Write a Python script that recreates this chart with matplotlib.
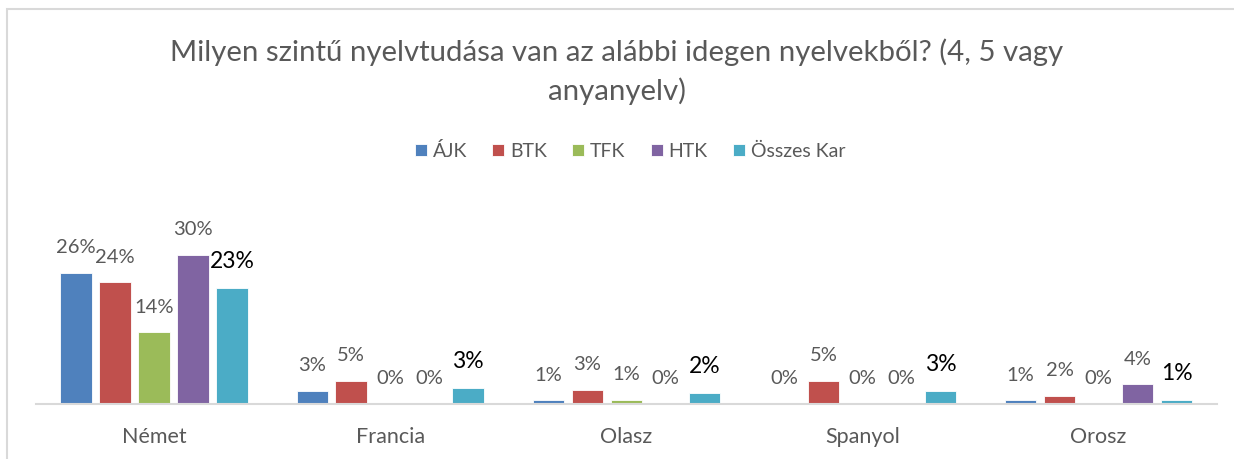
import numpy as np
import matplotlib.pyplot as plt
from matplotlib.patches import Rectangle

plt.rcParams['font.family'] = ['Lato', 'DejaVu Sans']

# nyelvek (kategoriak) es karok (sorozatok)
languages = ['Német', 'Francia', 'Olasz', 'Spanyol', 'Orosz']
faculties = ['ÁJK', 'BTK', 'TFK', 'HTK', 'Összes Kar']

ajk = [26.3, 2.6, 0.7, 0.0, 0.7]
btk = [24.4, 4.6, 2.8, 4.6, 1.6]
tfk = [14.4, 0.0, 0.8, 0.0, 0.0]
htk = [29.9, 0.0, 0.0, 0.0, 3.9]
osszes = [23.2, 3.1, 2.1, 2.6, 0.8]

series = [ajk, btk, tfk, htk, osszes]
colors = ['#4F81BD', '#C0504D', '#9BBB59', '#8064A2', '#4BACC6']

fig = plt.figure(figsize=(12.34, 4.59), dpi=100)
ax = fig.add_axes([36 / 1234, 55.3 / 459, 1180.7 / 1234, 172.2 / 459])

# keret a diagram korul
fig.patches.append(Rectangle((7 / 1234, -0.1), 1.2, (459 - 9.5) / 459 + 0.1,
                             transform=fig.transFigure, fill=False,
                             edgecolor='#D9D9D9', linewidth=1.5))

x = np.arange(len(languages))
width = 0.1335
step = 0.165
for i, (vals, col) in enumerate(zip(series, colors)):
    pos = x + (i - 2) * step
    ax.bar(pos, vals, width, color=col, edgecolor='white',
           linewidth=0.6, label=faculties[i])
    for p, v in zip(pos, vals):
        if i == 4:
            ax.annotate(f'{v:.0f}%', (p, v), xytext=(0, 19), textcoords='offset points',
                        ha='center', va='center', fontsize=16.5, color='black')
        else:
            ax.annotate(f'{v:.0f}%', (p, v), xytext=(0, 18), textcoords='offset points',
                        ha='center', va='center', fontsize=14.5, color='#595959')

ax.set_xlim(-0.5, len(languages) - 0.5)
ax.set_ylim(0, 34.6)
ax.set_yticks([])
ax.set_xticks(x)
ax.set_xticklabels(languages, fontsize=15.5, color='#595959')
ax.tick_params(axis='x', length=0, pad=17)
for s in ['top', 'left', 'right']:
    ax.spines[s].set_visible(False)
ax.spines['bottom'].set_color('#D9D9D9')
ax.spines['bottom'].set_linewidth(1.5)

fig.text(0.5, 1 - 61 / 459, 'Milyen szintű nyelvtudása van az alábbi idegen nyelvekből? (4, 5 vagy',
         ha='center', va='baseline', fontsize=21.2, color='#595959')
fig.text(0.5, 1 - 100 / 459, 'anyanyelv)', ha='center', va='baseline', fontsize=21.2, color='#595959')

fig.legend(loc='center', bbox_to_anchor=(630 / 1234, 1 - 151 / 459), ncol=5, frameon=False,
           fontsize=14, labelcolor='#595959', handlelength=0.62, handleheight=0.62,
           handletextpad=0.3, columnspacing=1.3)

fig.savefig('out.png', dpi=100)
